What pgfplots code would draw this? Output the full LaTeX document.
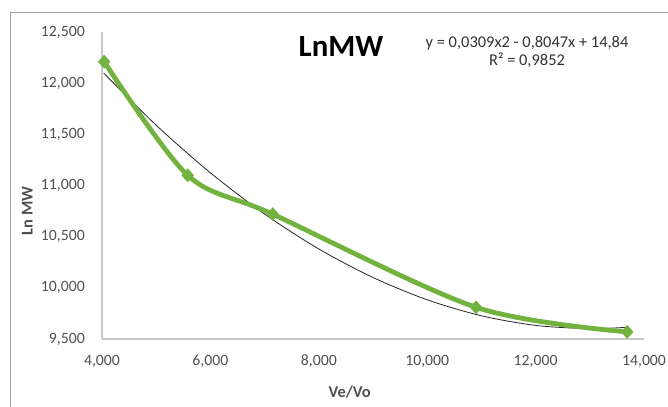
\documentclass[border=0pt]{standalone}
\usepackage{pgfplots}
\pgfplotsset{compat=1.18}
\usepackage{fontspec}
\setmainfont{Carlito}
\definecolor{lngreen}{RGB}{114,178,62}
\definecolor{axgray}{RGB}{200,200,200}
\definecolor{txtgray}{RGB}{80,80,80}
\definecolor{framegray}{RGB}{160,160,160}
\begin{document}
\begin{tikzpicture}[x=1bp,y=1bp]
\useasboundingbox (0,0) rectangle (668,406);
% outer chart frame (left and top edges visible)
\draw[framegray, line width=1bp] (10.5,-20) -- (10.5,393.5) -- (700,393.5);
\begin{axis}[
  at={(102bp,67bp)}, anchor=south west,
  scale only axis, width=542bp, height=307bp,
  xmin=4, xmax=14, ymin=9.5, ymax=12.5,
  xtick={4,6,8,10,12,14}, ytick={9.5,10,10.5,11,11.5,12,12.5},
  axis x line*=bottom, axis y line*=left,
  axis line style={axgray, line width=1.2bp, -},
  major tick length=0pt,
  /pgf/number format/.cd, fixed, fixed zerofill, precision=3, use comma, assume math mode=true,
  /pgfplots/.cd,
  tick label style={font=\fontsize{15.8}{18}\selectfont, text=txtgray, inner sep=0pt},
  yticklabel style={anchor=east, xshift=-17bp},
  xticklabel style={anchor=center, yshift=-22bp},
  xlabel={Ve/Vo}, ylabel={Ln MW},
  label style={font=\fontsize{16.5}{19}\selectfont\bfseries, text=txtgray},
  xlabel style={at={(axis description cs:0.457,-0.172)}, anchor=center},
  ylabel style={at={(axis description cs:-0.138,0.417)}, anchor=center, rotate=0},
  clip=false,
]
% polynomial trendline (values of y = 0.0309x^2 - 0.8047x + 14.84 as listed)
\addplot[black!85, line width=0.8bp, smooth] coordinates {
  (4.03,12.099) (5,11.589) (6,11.124) (7,10.721) (8,10.380) (9,10.101)
  (10,9.883) (11,9.727) (12,9.633) (13,9.601) (13.69,9.615)};
% LnMW data
\addplot[lngreen, line width=4.8bp, smooth, tension=0.5, mark=diamond*,
  mark size=6.5bp, mark options={xscale=1.2, line width=0.5bp, fill=lngreen}] coordinates {
  (4.04,12.21) (5.58,11.10) (7.15,10.72) (10.90,9.81) (13.69,9.57)};
\end{axis}
\node[font=\fontsize{31}{34}\selectfont\bfseries, text=black] at (341,359.5) {LnMW};
\node[font=\fontsize{16.5}{19}\selectfont, text=black!80, align=center, inner sep=0pt] at (527,354)
  {y = 0,0309x2 - 0,8047x + 14,84\\[-1bp] R² = 0,9852};
\end{tikzpicture}
\end{document}
